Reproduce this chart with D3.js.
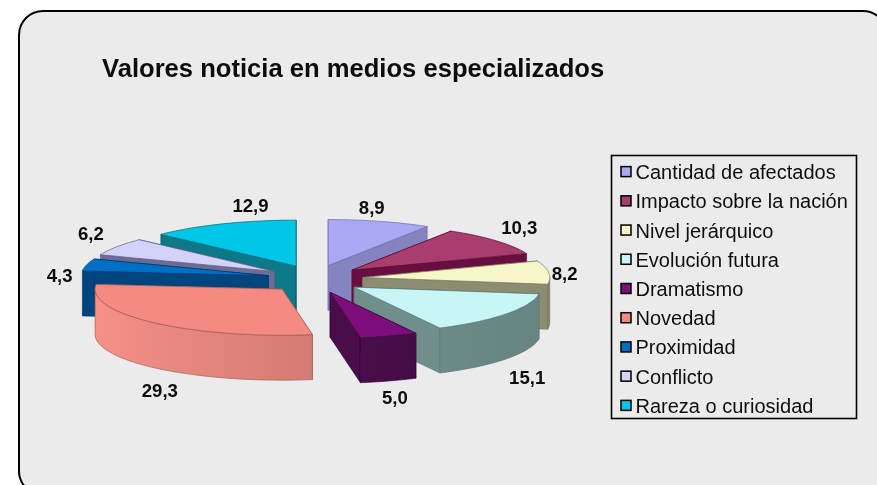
<!DOCTYPE html>
<html><head><meta charset="utf-8">
<script src="https://cdn.jsdelivr.net/npm/d3@7/dist/d3.min.js"></script>
<style>html,body{margin:0;padding:0;background:#fff;overflow:hidden}svg{display:block}text{font-family:"Liberation Sans",Arial,sans-serif;fill:#111}</style>
</head><body><svg id="c" width="877" height="485"></svg>
<script>
const categories = ["Cantidad de afectados","Impacto sobre la nación","Nivel jerárquico","Evolución futura","Dramatismo","Novedad","Proximidad","Conflicto","Rareza o curiosidad"];
const values = [8.9,10.3,8.2,15.1,5.0,29.3,4.3,6.2,12.9];
const valueLabels = ["8,9","10,3","8,2","15,1","5,0","29,3","4,3","6,2","12,9"];
const topColors = ["#a8a8f4","#a83c6e","#f6f6c8","#c8f6f6","#7e0f7c","#f48a82","#0070c6","#d2d2fa","#00c6e8"];
const faceColors = ["#8484c0","#6a1040","#8c8c70","#6f8f8c","#4a0848","#c87068","#00447e","#6c6c94","#0a7888"];
const wallLight = ["#9090c8","#7a2050","#a8a888","#7f9c9a","#560a58","#f49088","#00508c","#8080a8","#108898"];
const wallDark  = ["#7070a8","#5a1038","#888868","#668482","#3e0640","#bc6c64","#003c70","#606080","#086878"];
const paintOrder = [0,1,2,3,4,8,7,6,5];
const labelNudge = [[-8,-14],[23,-13],[16,1],[21,64],[6,62],[6,68],[-27,11],[-26,-13],[28,-18]];

const W=877,H=485, cx=315, cy=279, rx=187, ry=46, depth=45, ex=48, ey=14;
const svg=d3.select("#c");
const defs=svg.append("defs");
defs.append("filter").attr("id","soft").append("feGaussianBlur").attr("stdDeviation",0.5);
defs.append("filter").attr("id","softText").append("feGaussianBlur").attr("stdDeviation",0.25);

svg.append("rect").attr("x",19).attr("y",11).attr("width",868).attr("height",484)
  .attr("rx",24).attr("fill","#ebebeb").attr("stroke","#000").attr("stroke-width",2);

const textLayer=svg.append("g").attr("filter","url(#softText)");
textLayer.append("text").attr("x",102).attr("y",77).attr("font-size",25.6).attr("font-weight","bold").text("Valores noticia en medios especializados");

const arcs=d3.pie().sort(null).startAngle(0).endAngle(2*Math.PI)(values);
const pt=(a,ox,oy,r=1,dy=0)=>[ox+rx*r*Math.sin(a), oy-ry*r*Math.cos(a)+dy];
const line=d3.line();
const samples=(a0,a1)=>d3.range(0,41).map(i=>a0+(a1-a0)*i/40);
const g=svg.append("g").attr("filter","url(#soft)");

paintOrder.forEach(i=>{
  const d=arcs[i], mid=(d.startAngle+d.endAngle)/2;
  const ox=cx+ex*Math.sin(mid), oy=cy-ey*Math.cos(mid);
  const a0=d.startAngle,a1=d.endAngle;
  const grad=defs.append("linearGradient").attr("id","w"+i).attr("gradientUnits","userSpaceOnUse")
    .attr("x1",ox-rx).attr("x2",ox+rx).attr("y1",0).attr("y2",0);
  grad.append("stop").attr("offset",0).attr("stop-color",wallLight[i]);
  grad.append("stop").attr("offset",1).attr("stop-color",wallDark[i]);
  const stroke=d3.color(faceColors[i]).darker(0.5);
  const face=(a)=>{const p=pt(a,ox,oy);return line([[ox,oy],p,[p[0],p[1]+depth],[ox,oy+depth]])+"Z";};
  [a0,a1].forEach(a=>g.append("path").attr("d",face(a)).attr("fill",faceColors[i]).attr("stroke",stroke).attr("stroke-width",0.6));
  const w0=Math.max(a0,Math.PI/2), w1=Math.min(a1,3*Math.PI/2);
  if(w1>w0){
    const s=samples(w0,w1);
    const pts=s.map(a=>pt(a,ox,oy)).concat(s.slice().reverse().map(a=>pt(a,ox,oy,1,depth)));
    g.append("path").attr("d",line(pts)+"Z").attr("fill",`url(#w${i})`).attr("stroke",stroke).attr("stroke-width",0.7);
  }
  const topPts=[[ox,oy]].concat(samples(a0,a1).map(a=>pt(a,ox,oy)));
  g.append("path").attr("d",line(topPts)+"Z").attr("fill",topColors[i]).attr("stroke",stroke).attr("stroke-width",0.7);
});

arcs.forEach((d,i)=>{
  const mid=(d.startAngle+d.endAngle)/2;
  const ox=cx+ex*Math.sin(mid), oy=cy-ey*Math.cos(mid);
  const p=pt(mid,ox,oy);
  textLayer.append("text").attr("x",p[0]+labelNudge[i][0]).attr("y",p[1]+labelNudge[i][1]+6.5)
    .attr("text-anchor","middle").attr("font-size",18.6).attr("font-weight","bold").text(valueLabels[i]);
});

const lg=svg.append("g");
lg.append("rect").attr("x",611.5).attr("y",155.5).attr("width",245).attr("height",263).attr("fill","none").attr("stroke","#000").attr("stroke-width",1.6);
const rowY=d3.scaleBand().domain(categories).range([158,421]);
categories.forEach((c,i)=>{
  const m=rowY(c)+rowY.bandwidth()/2;
  lg.append("rect").attr("x",621).attr("y",m-6).attr("width",10).attr("height",10).attr("fill",topColors[i]).attr("stroke","#000").attr("stroke-width",1.5);
  textLayer.append("text").attr("x",635.5).attr("y",m+6.5).attr("font-size",20).text(c);
});
</script></body></html>
